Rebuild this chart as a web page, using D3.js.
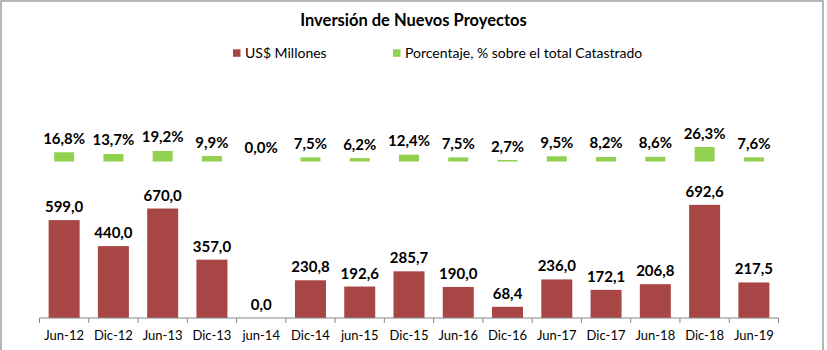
<!DOCTYPE html>
<html>
<head>
<meta charset="utf-8">
<script src="https://cdn.jsdelivr.net/npm/d3@7"></script>
<style>
  html, body { margin: 0; padding: 0; background: #fff; }
  svg { display: block; font-family: Lato, "Open Sans", sans-serif; }
</style>
</head>
<body>
<svg id="chart" width="827" height="350"></svg>
<script>
const categories = ["Jun-12","Dic-12","Jun-13","Dic-13","jun-14","Dic-14","jun-15","Dic-15","Jun-16","Dic-16","Jun-17","Dic-17","Jun-18","Dic-18","Jun-19"];
const millones = [599.0, 440.0, 670.0, 357.0, 0.0, 230.8, 192.6, 285.7, 190.0, 68.4, 236.0, 172.1, 206.8, 692.6, 217.5];
const porcentaje = [16.8, 13.7, 19.2, 9.9, 0.0, 7.5, 6.2, 12.4, 7.5, 2.7, 9.5, 8.2, 8.6, 26.3, 7.6];
const seriesNames = ["US$ Millones", "Porcentaje, % sobre el total Catastrado"];
const title = "Inversión de Nuevos Proyectos";

const W = 827, H = 350;
const RED = "#A84646", GREEN = "#92D050", AXIS = "#868686";
const svg = d3.select("#chart");
const fmt = v => d3.format(".1f")(v).replace(".", ",");

// border
svg.append("rect").attr("x", 1).attr("y", 1).attr("width", 822).attr("height", 360)
  .attr("fill", "none").attr("stroke", "#A0A0A0").attr("stroke-width", 1.5);

const x = d3.scaleBand().domain(categories).range([39.5, 778.5]).padding(0);
const yRed = d3.scaleLinear().domain([0, 700]).range([318, 318 - 0.1634 * 700]);
const yGreen = d3.scaleLinear().domain([0, 30]).range([161.5, 161.5 - 0.55 * 30]);

// title
svg.append("text").attr("x", 413.5).attr("y", 25.5).attr("text-anchor", "middle")
  .attr("font-weight", "bold").attr("font-size", 16.5).attr("fill", "#000").text(title);

// legend
const leg = [
  {name: seriesNames[0], color: RED, sx: 233, tx: 245},
  {name: seriesNames[1], color: GREEN, sx: 393, tx: 405}
];
leg.forEach(l => {
  svg.append("rect").attr("x", l.sx).attr("y", 49.3).attr("width", 7.5).attr("height", 7.5).attr("fill", l.color);
  svg.append("text").attr("x", l.tx).attr("y", 57.5).attr("font-size", 14).attr("fill", "#000").text(l.name);
});

// red bars
const rw = 31;
svg.selectAll("rect.red").data(categories).join("rect").attr("class", "red")
  .attr("x", d => x(d) + x.bandwidth() / 2 - rw / 2)
  .attr("width", rw)
  .attr("y", (d, i) => yRed(millones[i]))
  .attr("height", (d, i) => yRed(0) - yRed(millones[i]))
  .attr("fill", RED);
svg.selectAll("text.redlab").data(categories).join("text").attr("class", "redlab")
  .attr("x", d => x(d) + x.bandwidth() / 2)
  .attr("y", (d, i) => yRed(millones[i]) - 8)
  .attr("text-anchor", "middle").attr("font-weight", "bold").attr("font-size", 15)
  .text((d, i) => fmt(millones[i]));

// green bars
const gw = 20;
svg.selectAll("rect.green").data(categories).join("rect").attr("class", "green")
  .attr("x", d => x(d) + x.bandwidth() / 2 - gw / 2)
  .attr("width", gw)
  .attr("y", (d, i) => yGreen(porcentaje[i]))
  .attr("height", (d, i) => yGreen(0) - yGreen(porcentaje[i]))
  .attr("fill", GREEN);
svg.selectAll("text.greenlab").data(categories).join("text").attr("class", "greenlab")
  .attr("x", d => x(d) + x.bandwidth() / 2)
  .attr("y", (d, i) => yGreen(porcentaje[i]) - 8.5)
  .attr("text-anchor", "middle").attr("font-weight", "bold").attr("font-size", 15)
  .text((d, i) => fmt(porcentaje[i]) + "%");

// axis
const axisG = svg.append("g").attr("transform", `translate(0,${yRed(0)})`);
axisG.append("line").attr("x1", 39.5).attr("x2", 778.5).attr("stroke", AXIS).attr("stroke-width", 1);
const tickPos = categories.map(c => x(c)).concat([x.range()[1]]);
axisG.selectAll("line.tick").data(tickPos).join("line").attr("class", "tick")
  .attr("x1", d => d).attr("x2", d => d).attr("y1", 0).attr("y2", 5)
  .attr("stroke", AXIS).attr("stroke-width", 1);
axisG.selectAll("text.cat").data(categories).join("text").attr("class", "cat")
  .attr("x", d => x(d) + x.bandwidth() / 2)
  .attr("y", 21.5)
  .attr("text-anchor", "middle").attr("font-size", 13).attr("fill", "#000")
  .text(d => d);
</script>
</body>
</html>
